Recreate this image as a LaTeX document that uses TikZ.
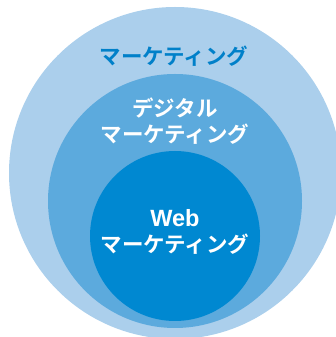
\documentclass[tikz,border=0pt]{standalone}
\usepackage{fontspec}
\newfontfamily\jpfont{Noto Sans CJK JP}[BoldFont={* Bold}]
\newfontfamily\latinfont{Liberation Sans}
\definecolor{outerblue}{HTML}{ABCFEC}
\definecolor{midblue}{HTML}{5CAADD}
\definecolor{innerblue}{HTML}{0088D1}
\definecolor{labelblue}{HTML}{0080C9}
\begin{document}
\begin{tikzpicture}[x=1pt,y=1pt,
  ring/.style={circle, inner sep=0pt, draw=none},
  jplabel/.style={font=\jpfont\bfseries\fontsize{21.5}{24}\selectfont, inner sep=0pt, anchor=center},
  weblabel/.style={font=\latinfont\bfseries\fontsize{23.5}{26}\selectfont, inner sep=0pt, anchor=center}]
\useasboundingbox (0,0) rectangle (336,337);
\clip (0,0) rectangle (336,337);
\node[ring, fill=outerblue, minimum size=332pt] (outer) at (175,164) {};
\node[ring, fill=midblue, minimum size=254pt] (middle) at (175,136) {};
\node[ring, fill=innerblue, minimum size=170pt] (inner) at (175,101) {};
\node[jplabel, text=labelblue] (t1) at (174,281) {マーケティング};
\node[jplabel, text=white] (t2a) at (175,229) {デジタル};
\node[jplabel, text=white] (t2b) at (175,203) {マーケティング};
\node[weblabel, text=white] (t3a) at (175,119) {Web};
\node[jplabel, text=white] (t3b) at (175,93) {マーケティング};
\end{tikzpicture}
\end{document}
